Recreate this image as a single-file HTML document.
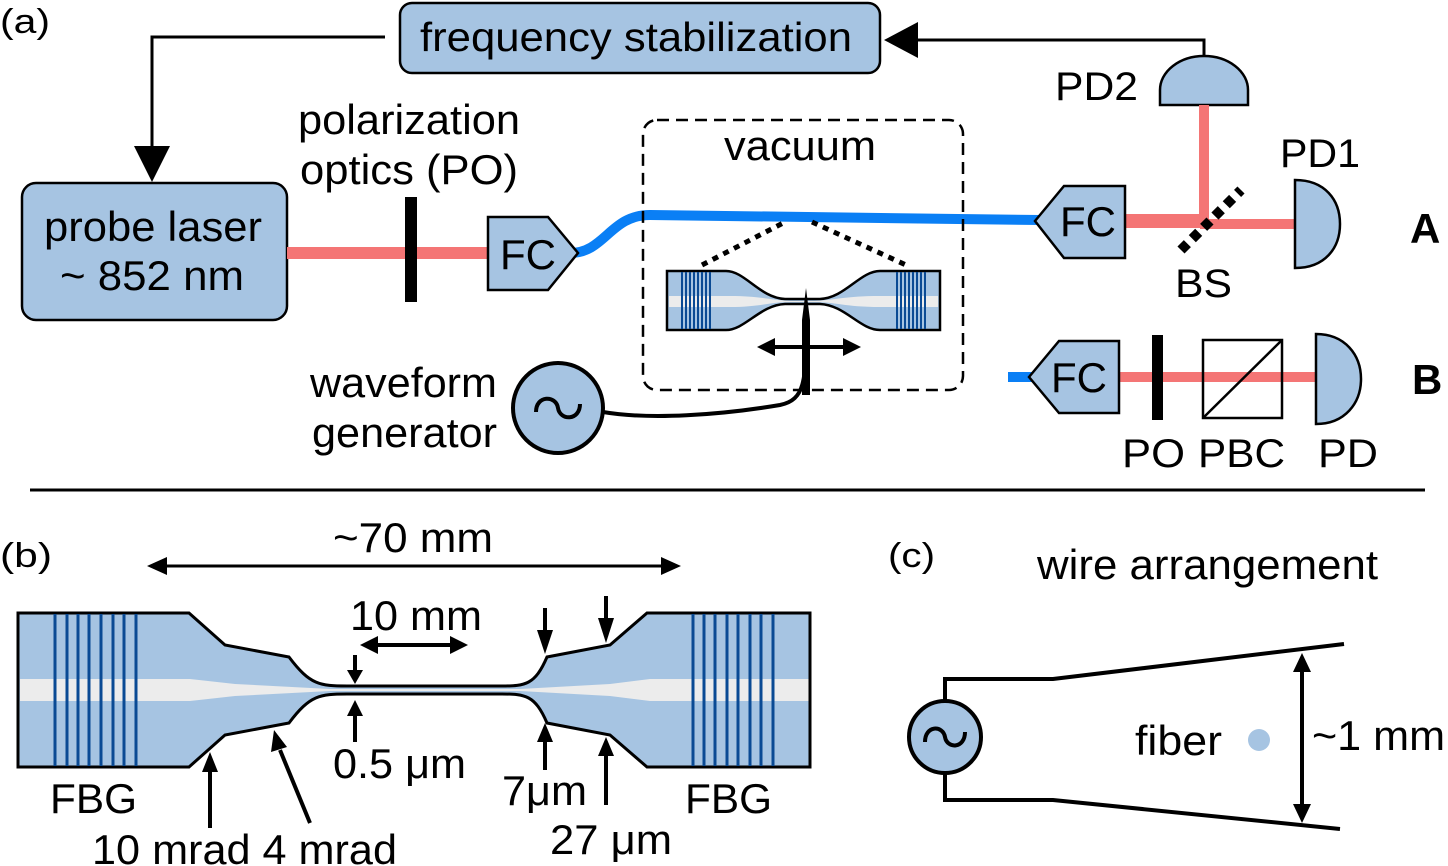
<!DOCTYPE html>
<html><head><meta charset="utf-8"><style>html,body{margin:0;padding:0;background:#fff}svg{display:block}text{font-family:"Liberation Sans",sans-serif;fill:#000}</style></head>
<body>
<svg width="1448" height="866" viewBox="0 0 1448 866" xmlns="http://www.w3.org/2000/svg">
<g font-size="42" lengthAdjust="spacingAndGlyphs">
<text x="0" y="33" font-size="34" textLength="50" lengthAdjust="spacingAndGlyphs">(a)</text>
<rect x="400" y="3" width="480" height="70" rx="12" fill="#a6c4e2" stroke="#000" stroke-width="2.5"/>
<text x="420" y="51" font-size="41" textLength="432" lengthAdjust="spacingAndGlyphs">frequency stabilization</text>
<polyline points="385,37 152,37 152,150" fill="none" stroke="#000" stroke-width="3"/>
<path d="M134,146 L170,146 L152,182 z"/>
<polyline points="1204,57 1204,40 915,40" fill="none" stroke="#000" stroke-width="3"/>
<path d="M918,22 L918,58 L884,40 z"/>
<path d="M1160,105 L1160,90 A44,34 0 0 1 1248,90 L1248,105 z" fill="#a6c4e2" stroke="#000" stroke-width="2.5"/>
<text x="1055" y="100" font-size="40" textLength="83" lengthAdjust="spacingAndGlyphs">PD2</text>
<rect x="22" y="183" width="265" height="137" rx="14" fill="#a6c4e2" stroke="#000" stroke-width="2.5"/>
<text x="44" y="241" font-size="42" textLength="218" lengthAdjust="spacingAndGlyphs">probe laser</text>
<text x="60" y="290" font-size="42" textLength="184" lengthAdjust="spacingAndGlyphs">~ 852 nm</text>
<line x1="287" y1="253" x2="490" y2="253" stroke="#f47575" stroke-width="12"/>
<rect x="405" y="197" width="12" height="105" fill="#000"/>
<text x="298" y="134" font-size="42" textLength="222" lengthAdjust="spacingAndGlyphs">polarization</text>
<text x="300" y="184" font-size="42" textLength="218" lengthAdjust="spacingAndGlyphs">optics (PO)</text>
<path d="M570,253 C605,253 610,215 650,215 L1040,220" fill="none" stroke="#0a7ff5" stroke-width="10"/>
<polygon points="488,217 548,217 578,253 548,290 488,290" fill="#a6c4e2" stroke="#000" stroke-width="2.5"/>
<text x="500" y="269" font-size="42" textLength="56" lengthAdjust="spacingAndGlyphs">FC</text>
<rect x="643" y="120" width="320" height="270" rx="14" fill="none" stroke="#000" stroke-width="2.5" stroke-dasharray="12,7"/>
<text x="724" y="160" font-size="42" textLength="152" lengthAdjust="spacingAndGlyphs">vacuum</text>
<line x1="702" y1="265" x2="785" y2="222" stroke="#000" stroke-width="5" stroke-dasharray="6,6"/>
<line x1="812" y1="222" x2="906" y2="265" stroke="#000" stroke-width="5" stroke-dasharray="6,6"/>
<path d="M667,271 L726,271 C745,271 760,298 785,299 L820,299 C845,298 860,271 880,271 L940,271 L940,330 L880,330 C860,330 845,305 820,304 L785,304 C760,305 745,330 726,330 L667,330 z" fill="#a6c4e2" stroke="#000" stroke-width="2.5"/>
<path d="M669,296 L730,296 C760,296 770,300 790,301 L815,301 C835,300 845,296 880,296 L938,296 L938,307 L880,307 C845,307 835,302 815,302 L790,302 C770,302 760,307 730,307 L669,307 z" fill="#ececec"/>
<g stroke="#0a4a94" stroke-width="2"><line x1="682" y1="272" x2="682" y2="329"/><line x1="686" y1="272" x2="686" y2="329"/><line x1="690" y1="272" x2="690" y2="329"/><line x1="694" y1="272" x2="694" y2="329"/><line x1="698" y1="272" x2="698" y2="329"/><line x1="702" y1="272" x2="702" y2="329"/><line x1="706" y1="272" x2="706" y2="329"/><line x1="710" y1="272" x2="710" y2="329"/>
<line x1="897" y1="272" x2="897" y2="329"/><line x1="901" y1="272" x2="901" y2="329"/><line x1="905" y1="272" x2="905" y2="329"/><line x1="909" y1="272" x2="909" y2="329"/><line x1="913" y1="272" x2="913" y2="329"/><line x1="917" y1="272" x2="917" y2="329"/><line x1="921" y1="272" x2="921" y2="329"/><line x1="925" y1="272" x2="925" y2="329"/></g>
<line x1="768" y1="347" x2="850" y2="347" stroke="#000" stroke-width="4"/>
<path d="M757,347 L775,338 L775,356 z"/><path d="M861,347 L843,338 L843,356 z"/>
<path d="M806,288 L810,320 L810,395 L802,395 L802,320 z"/>
<path d="M603,412 C650,420 720,415 780,405 C805,400 806,380 806,330" fill="none" stroke="#000" stroke-width="4"/>
<circle cx="558" cy="408" r="45" fill="#a6c4e2" stroke="#000" stroke-width="4"/>
<path d="M536,412 C536,395 556,395 558,408 C560,421 580,421 580,404" fill="none" stroke="#000" stroke-width="4"/>
<text x="310" y="397" font-size="42" textLength="187" lengthAdjust="spacingAndGlyphs">waveform</text>
<text x="312" y="447" font-size="42" textLength="185" lengthAdjust="spacingAndGlyphs">generator</text>
<line x1="1204" y1="105" x2="1204" y2="221" stroke="#f47575" stroke-width="10"/>
<line x1="1120" y1="221" x2="1206" y2="221" stroke="#f47575" stroke-width="14"/>
<line x1="1200" y1="224" x2="1296" y2="224" stroke="#f47575" stroke-width="10"/>
<line x1="1181" y1="250" x2="1241" y2="190" stroke="#000" stroke-width="10" stroke-dasharray="9,7"/>
<polygon points="1035,221 1064,186 1125,186 1125,258 1064,258" fill="#a6c4e2" stroke="#000" stroke-width="2.5"/>
<text x="1060" y="236" font-size="42" textLength="56" lengthAdjust="spacingAndGlyphs">FC</text>
<path d="M1295,180 C1325,180 1340,200 1340,224 C1340,248 1325,268 1295,268 z" fill="#a6c4e2" stroke="#000" stroke-width="2.5"/>
<text x="1280" y="167" font-size="40" textLength="80" lengthAdjust="spacingAndGlyphs">PD1</text>
<text x="1175" y="297" font-size="40" textLength="57" lengthAdjust="spacingAndGlyphs">BS</text>
<text x="1410" y="243" font-size="42" font-weight="bold">A</text>
<line x1="1008" y1="377" x2="1035" y2="377" stroke="#0a7ff5" stroke-width="10"/>
<line x1="1118" y1="377" x2="1318" y2="377" stroke="#f47575" stroke-width="10"/>
<polygon points="1029,377 1059,341 1119,341 1119,413 1059,413" fill="#a6c4e2" stroke="#000" stroke-width="2.5"/>
<text x="1051" y="392" font-size="42" textLength="56" lengthAdjust="spacingAndGlyphs">FC</text>
<rect x="1152" y="335" width="11" height="85" fill="#000"/>
<rect x="1203" y="340" width="79" height="78" fill="none" stroke="#000" stroke-width="2.5"/>
<line x1="1203" y1="418" x2="1282" y2="340" stroke="#000" stroke-width="2.5"/>
<path d="M1316,334 C1345,334 1361,355 1361,379 C1361,403 1345,424 1316,424 z" fill="#a6c4e2" stroke="#000" stroke-width="2.5"/>
<text x="1122" y="467" font-size="40" textLength="63" lengthAdjust="spacingAndGlyphs">PO</text>
<text x="1198" y="467" font-size="40" textLength="87" lengthAdjust="spacingAndGlyphs">PBC</text>
<text x="1318" y="467" font-size="40" textLength="60" lengthAdjust="spacingAndGlyphs">PD</text>
<text x="1412" y="394" font-size="42" font-weight="bold">B</text>
<line x1="30" y1="490" x2="1425" y2="490" stroke="#000" stroke-width="3"/>
<text x="0" y="567" font-size="34" textLength="52" lengthAdjust="spacingAndGlyphs">(b)</text>
<text x="333" y="552" font-size="42" textLength="160" lengthAdjust="spacingAndGlyphs">~70 mm</text>
<line x1="160" y1="566" x2="668" y2="566" stroke="#000" stroke-width="3"/>
<path d="M147,566 L167,557 L167,575 z"/><path d="M681,566 L661,557 L661,575 z"/>
<path d="M18,613 L189,613 L225,645 L289,657 C310,685 320,686 347,686 L502,686 C525,686 535,685 547,657 L610,645 L647,613 L810,613 L810,767 L647,767 L610,735 L547,723 C535,695 525,694 502,694 L347,694 C320,694 310,695 289,723 L225,735 L189,767 L18,767 z" fill="#a6c4e2"/>
<path d="M20,679 L190,679 L235,684 L330,689 L520,689 L610,684 L650,679 L810,679 L810,701 L650,701 L610,696 L520,691 L330,691 L235,696 L190,701 L20,701 z" fill="#ececec"/>
<path d="M18,613 L189,613 L225,645 L289,657 C310,685 320,686 347,686 L502,686 C525,686 535,685 547,657 L610,645 L647,613 L810,613 L810,767 L647,767 L610,735 L547,723 C535,695 525,694 502,694 L347,694 C320,694 310,695 289,723 L225,735 L189,767 L18,767 z" fill="none" stroke="#000" stroke-width="3"/>
<g stroke="#0a4a94" stroke-width="3"><line x1="55" y1="614" x2="55" y2="766"/><line x1="67" y1="614" x2="67" y2="766"/><line x1="78" y1="614" x2="78" y2="766"/><line x1="89" y1="614" x2="89" y2="766"/><line x1="101" y1="614" x2="101" y2="766"/><line x1="113" y1="614" x2="113" y2="766"/><line x1="124" y1="614" x2="124" y2="766"/><line x1="136" y1="614" x2="136" y2="766"/>
<line x1="693" y1="614" x2="693" y2="766"/><line x1="704" y1="614" x2="704" y2="766"/><line x1="715" y1="614" x2="715" y2="766"/><line x1="727" y1="614" x2="727" y2="766"/><line x1="738" y1="614" x2="738" y2="766"/><line x1="750" y1="614" x2="750" y2="766"/><line x1="761" y1="614" x2="761" y2="766"/><line x1="773" y1="614" x2="773" y2="766"/></g>
<text x="350" y="630" font-size="42" textLength="132" lengthAdjust="spacingAndGlyphs">10 mm</text>
<line x1="372" y1="645" x2="456" y2="645" stroke="#000" stroke-width="4"/>
<path d="M360,645 L378,636 L378,654 z"/><path d="M468,645 L450,636 L450,654 z"/>
<g stroke="#000" stroke-width="4">
<line x1="355" y1="655" x2="355" y2="672"/><line x1="355" y1="715" x2="355" y2="742"/>
<line x1="545" y1="608" x2="545" y2="632"/><line x1="545" y1="740" x2="545" y2="770"/>
<line x1="606" y1="596" x2="606" y2="620"/><line x1="606" y1="752" x2="606" y2="805"/>
<line x1="210" y1="770" x2="210" y2="828"/>
<line x1="310" y1="823" x2="280" y2="750"/>
</g>
<path d="M347,670 L363,670 L355,684 z"/><path d="M347,716 L363,716 L355,700 z"/>
<path d="M537,630 L553,630 L545,654 z"/><path d="M537,742 L553,742 L545,723 z"/>
<path d="M598,618 L614,618 L606,643 z"/><path d="M598,756 L614,756 L606,737 z"/>
<path d="M202,772 L218,772 L210,752 z"/>
<path d="M271,752 L287,747 L274,730 z"/>
<text x="50" y="813" font-size="42" textLength="87" lengthAdjust="spacingAndGlyphs">FBG</text>
<text x="685" y="813" font-size="42" textLength="87" lengthAdjust="spacingAndGlyphs">FBG</text>
<text x="333" y="778" font-size="42" textLength="133" lengthAdjust="spacingAndGlyphs">0.5 μm</text>
<text x="502" y="805" font-size="42" textLength="85" lengthAdjust="spacingAndGlyphs">7μm</text>
<text x="550" y="854" font-size="42" textLength="122" lengthAdjust="spacingAndGlyphs">27 μm</text>
<text x="92" y="864" font-size="42" textLength="305" lengthAdjust="spacingAndGlyphs">10 mrad 4 mrad</text>
<text x="888" y="567" font-size="34" textLength="47" lengthAdjust="spacingAndGlyphs">(c)</text>
<text x="1037" y="579" font-size="42" textLength="341" lengthAdjust="spacingAndGlyphs">wire arrangement</text>
<polyline points="945,700 945,679 1053,679 1344,644" fill="none" stroke="#000" stroke-width="4"/>
<polyline points="945,774 945,800 1053,800 1340,829" fill="none" stroke="#000" stroke-width="4"/>
<circle cx="945" cy="737" r="36" fill="#a6c4e2" stroke="#000" stroke-width="4"/>
<path d="M925,742 C925,725 943,725 945,737 C947,749 965,749 965,732" fill="none" stroke="#000" stroke-width="4"/>
<text x="1135" y="755" font-size="42" textLength="87" lengthAdjust="spacingAndGlyphs">fiber</text>
<circle cx="1259" cy="740" r="11" fill="#a6c4e2"/>
<line x1="1302" y1="670" x2="1302" y2="806" stroke="#000" stroke-width="4"/>
<path d="M1302,653 L1293,672 L1311,672 z"/><path d="M1302,823 L1293,804 L1311,804 z"/>
<text x="1312" y="750" font-size="42" textLength="133" lengthAdjust="spacingAndGlyphs">~1 mm</text>
</g>
</svg>
</body></html>
